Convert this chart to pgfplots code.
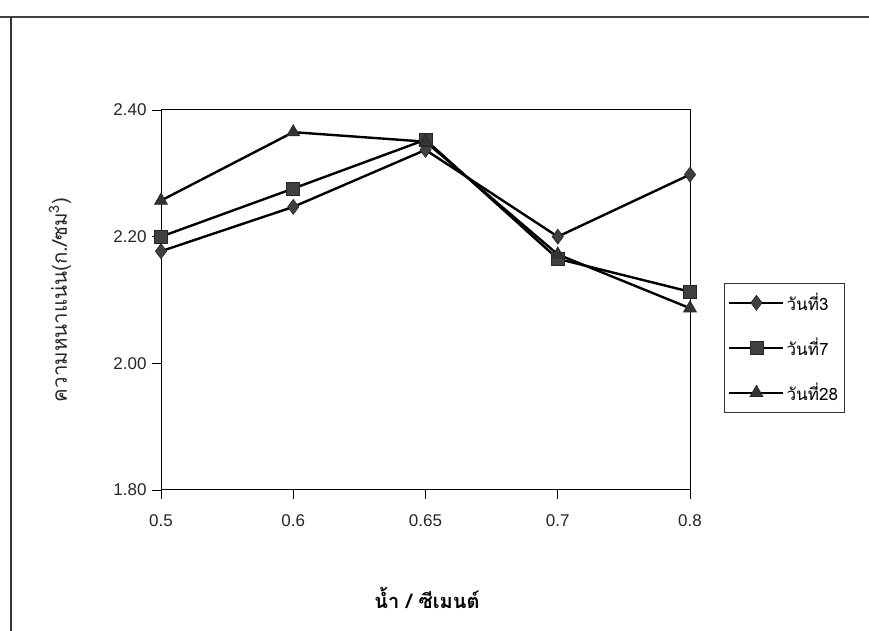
\documentclass[border=0pt]{standalone}
\usepackage{pgfplots}
\pgfplotsset{compat=1.18}
\usepackage{fontspec}
\setmainfont{Liberation Sans}
\newfontfamily\thaifont[Script=Thai]{Loma}
\begin{document}
\begin{tikzpicture}[x=1pt,y=1pt]
\useasboundingbox (0,0) rectangle (869,631);
\draw[line width=1.3pt, black!75] (0,614) -- (869,614);
\draw[line width=1.3pt, black!80] (11,0) -- (11,614);
\begin{axis}[
  at={(161pt,141pt)}, anchor=south west,
  scale only axis, width=529pt, height=380pt,
  xmin=0, xmax=4, ymin=1.8, ymax=2.4,
  xtick={0,1,2,3,4}, xticklabels={0.5,0.6,0.65,0.7,0.8},
  ytick={1.8,2.0,2.2,2.4},
  /pgf/number format/assume math mode=true,
  tick pos=left, tick align=outside, major tick length=9pt,
  tick style={black, line width=0.9pt},
  axis line style={black, line width=1pt},
  ticklabel style={font=\fontsize{17}{19}\selectfont, text=black!85},
  xticklabel style={yshift=-12pt},
  yticklabel style={xshift=-2pt, /pgf/number format/.cd, fixed, fixed zerofill, precision=2},
  legend style={at={(rel axis cs:1.064,0.545)}, anchor=north west,
    draw=black!80, line width=0.8pt, font=\thaifont\fontsize{17}{19}\selectfont,
    row sep=22pt, inner xsep=4pt, inner ysep=8pt,
    /tikz/every even column/.append style={column sep=0pt}},
  legend cell align=left,
  legend image code/.code={\draw[mark repeat=2,mark phase=2] plot coordinates {(0pt,0pt) (27pt,0pt) (54pt,0pt)};},
]
\addplot[black, line width=2.4pt, mark=diamond*, mark size=7.5pt, mark options={fill=black!75, draw=black!85, line width=0.6pt}]
  coordinates {(0,2.177) (1,2.247) (2,2.337) (3,2.200) (4,2.298)};
\addlegendentry{วันที่3}
\addplot[black, line width=2.4pt, mark=square*, mark size=6.5pt, mark options={fill=black!75, draw=black!85, line width=0.6pt}]
  coordinates {(0,2.200) (1,2.276) (2,2.353) (3,2.165) (4,2.113)};
\addlegendentry{วันที่7}
\addplot[black, line width=2.4pt, mark=triangle*, mark size=7.5pt, mark options={fill=black!80, draw=black!85, line width=0.6pt}]
  coordinates {(0,2.257) (1,2.365) (2,2.350) (3,2.172) (4,2.087)};
\addlegendentry{วันที่28}
\end{axis}
\node[rotate=90, font=\thaifont\fontsize{20.5}{22}\selectfont, text=black!85] at (60,331) {ความหนาแน่น(ก./ซม\textsuperscript{3})};
\node[font=\thaifont\bfseries\fontsize{20}{22}\selectfont] at (427,33) {น้ำ / ซีเมนต์};
\end{tikzpicture}
\end{document}
